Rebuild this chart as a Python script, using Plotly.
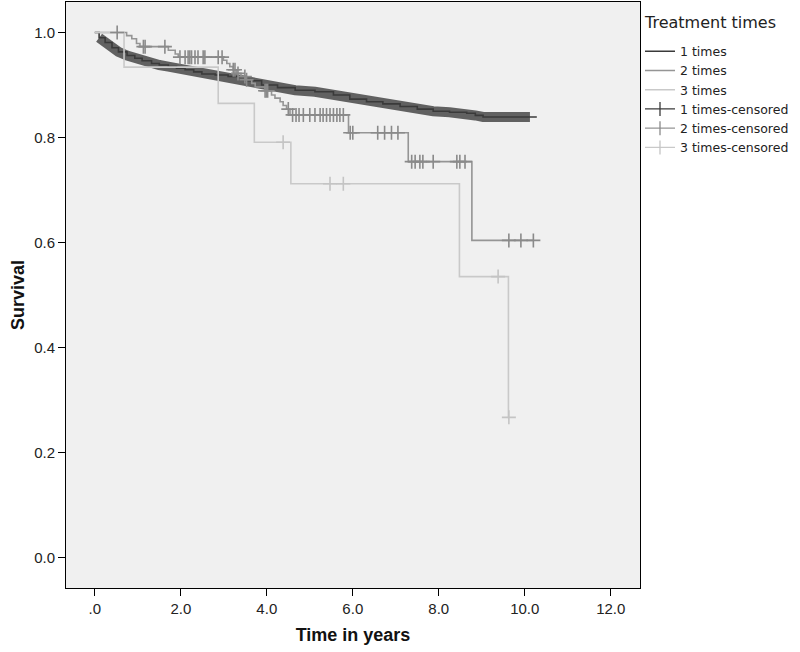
import plotly.graph_objects as go

# ---------------- data ----------------
# 1 times: Kaplan-Meier estimate (dense censoring forms a thick band)
t1_times = [0, 0.10, 0.24, 0.40, 0.55, 0.75, 0.93, 1.10, 1.32, 1.50, 1.71, 1.90,
            2.10, 2.30, 2.49, 2.80, 3.10, 3.50, 3.88, 4.25, 4.66, 5.12, 5.55,
            5.93, 6.32, 6.70, 7.10, 7.50, 7.87, 8.25, 8.65, 8.85, 9.03, 9.50]
t1_surv = [1.000, 0.990, 0.981, 0.971, 0.963, 0.956, 0.951, 0.946, 0.941, 0.938,
           0.935, 0.932, 0.929, 0.925, 0.921, 0.919, 0.916, 0.908, 0.900, 0.895,
           0.890, 0.887, 0.881, 0.873, 0.868, 0.864, 0.859, 0.854, 0.850, 0.848,
           0.846, 0.842, 0.839, 0.839]
t1_band_end = 10.12
t1_end = 10.28

# 2 times
t2_times = [0, 0.74, 0.86, 0.97, 1.05, 1.71, 1.87, 1.94, 2.99, 3.07, 3.14, 3.22,
            3.30, 3.40, 3.50, 3.65, 3.73, 3.96, 4.11, 4.19, 4.31, 4.38, 4.46,
            4.54, 5.90, 7.29, 8.77]
t2_surv = [1.000, 0.994, 0.988, 0.979, 0.973, 0.966, 0.959, 0.953, 0.947, 0.941,
           0.935, 0.929, 0.922, 0.916, 0.910, 0.903, 0.896, 0.889, 0.881, 0.875,
           0.868, 0.861, 0.854, 0.843, 0.809, 0.754, 0.604]
t2_end = 10.20
t2_censored = [0.52, 1.13, 1.17, 1.63, 1.98, 2.10, 2.17, 2.21, 2.25, 2.33, 2.40,
               2.52, 2.56, 2.87, 2.96, 3.22, 3.26, 3.33, 3.49, 3.53, 3.96, 3.99,
               4.02, 4.50, 4.60, 4.68, 4.75, 4.85, 5.00, 5.12, 5.24, 5.31, 5.39,
               5.47, 5.55, 5.63, 5.70, 5.78, 5.94, 6.00, 6.58, 6.74, 6.90, 7.05,
               7.37, 7.45, 7.56, 7.63, 7.87, 8.42, 8.49, 8.61, 9.63, 9.91, 10.20]

# 3 times
t3_times = [0, 0.68, 2.87, 3.71, 4.56, 8.48, 9.62]
t3_surv = [1.000, 0.934, 0.865, 0.791, 0.712, 0.535, 0.267]
t3_end = 9.63
t3_censored = [4.38, 5.47, 5.78, 9.38, 9.63]

x_tickvals = [0, 2, 4, 6, 8, 10, 12]
x_ticktext = [".0", "2.0", "4.0", "6.0", "8.0", "10.0", "12.0"]
y_tickvals = [0.0, 0.2, 0.4, 0.6, 0.8, 1.0]
y_ticktext = ["0.0", "0.2", "0.4", "0.6", "0.8", "1.0"]

legend_title = "Treatment times"
names = ["1 times", "2 times", "3 times"]
line_colors = ["#3a3a3a", "#959595", "#c9c9c9"]
mark_colors = ["#3a3a3a", "#8a8a8a", "#c4c4c4"]
band_color = "#616161"


def step_value(times, surv, t):
    v = surv[0]
    for tt, s in zip(times, surv):
        if tt <= t:
            v = s
    return v


fig = go.Figure()

# thick band of dense censoring for group 1
fig.add_trace(go.Scatter(
    x=t1_times[1:] + [t1_band_end], y=t1_surv[1:] + [t1_surv[-1]],
    mode="lines", line=dict(color=band_color, width=10),
    showlegend=False, hoverinfo="skip"))

curves = [(t1_times, t1_surv, t1_end), (t2_times, t2_surv, t2_end), (t3_times, t3_surv, t3_end)]
for i, (tt, ss, te) in enumerate(curves):
    fig.add_trace(go.Scatter(
        x=tt + [te], y=ss + [ss[-1]], mode="lines", name=names[i],
        line=dict(color=line_colors[i], width=1.6, shape="hv"),
        legendrank=i + 1))

# censored marks
for times, surv, cens, col in [(t2_times, t2_surv, t2_censored, mark_colors[1]),
                               (t3_times, t3_surv, t3_censored, mark_colors[2])]:
    fig.add_trace(go.Scatter(
        x=cens, y=[step_value(times, surv, c) for c in cens], mode="markers",
        marker=dict(symbol="cross-thin-open", size=10, color=col,
                    line=dict(color=col, width=1.6)),
        showlegend=False, hoverinfo="skip"))

# legend entries for censored groups
for i in range(3):
    fig.add_trace(go.Scatter(
        x=[None], y=[None], mode="lines+markers", name=names[i] + "-censored",
        line=dict(color=line_colors[i], width=1.3),
        marker=dict(symbol="line-ns-open", size=10, color=mark_colors[i],
                    line=dict(color=mark_colors[i], width=1.3)),
        legendrank=4 + i))

axis_common = dict(showline=True, linecolor="#000", linewidth=1, mirror=True,
                   ticks="outside", ticklen=7, tickcolor="#000", showgrid=False,
                   zeroline=False, automargin=False,
                   tickfont=dict(family="Liberation Sans, Arial", size=15, color="#222"))

fig.update_layout(
    width=800, height=652,
    margin=dict(l=66, r=160, t=2, b=64),
    paper_bgcolor="white", plot_bgcolor="#f0f0f0",
    font=dict(family="Liberation Sans, Arial", color="#222"),
    xaxis=dict(range=[-0.67, 12.68], tickvals=x_tickvals, ticktext=x_ticktext,
               title=dict(text="<b>Time in years</b>", font=dict(size=18, color="#111"), standoff=12),
               **axis_common),
    yaxis=dict(range=[-0.058, 1.058], tickvals=y_tickvals, ticktext=y_ticktext,
               title=dict(text="<b>Survival</b>", font=dict(size=18, color="#111"), standoff=4),
               **axis_common),
    legend=dict(x=1.0, y=0.941, xanchor="left", yanchor="top",
                font=dict(family="DejaVu Sans", size=12.5, color="#222"),
                bgcolor="rgba(0,0,0,0)", itemwidth=30, tracegroupgap=0),
    annotations=[dict(text=legend_title, xref="paper", yref="paper", x=1.004, y=0.985,
                      xanchor="left", yanchor="top", showarrow=False,
                      font=dict(family="DejaVu Sans", size=16, color="#222"))],
    showlegend=True,
)

fig.write_html("out.html", config={"displayModeBar": False},
               post_script="document.body.style.margin='0';")
